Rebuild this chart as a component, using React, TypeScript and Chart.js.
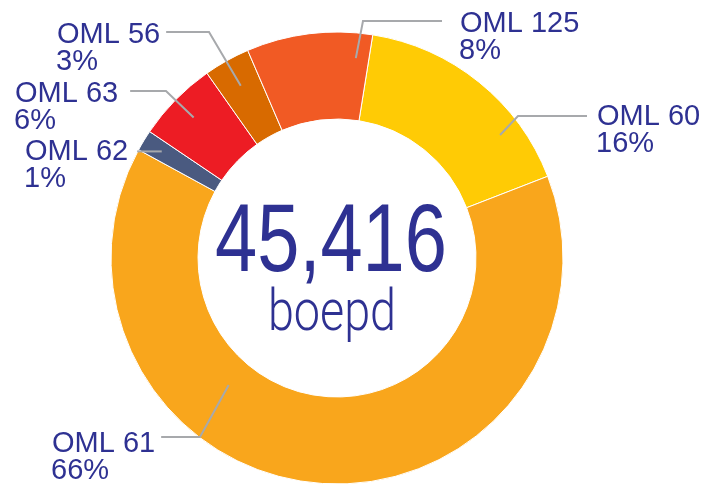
import { useEffect, useRef } from "react";
import { Chart, registerables } from "chart.js";

Chart.register(...registerables);

// ---- data ----
const categories = ["OML 60", "OML 61", "OML 62", "OML 63", "OML 56", "OML 125"];
const shares = [16.6, 63.9, 1.5, 5.8, 3.3, 9.0];
const shareLabels = ["16%", "66%", "1%", "6%", "3%", "8%"];
const totalLabel = "45,416";
const unitLabel = "boepd";

// ---- styles ----
const COLORS = ["#FFCB05", "#F9A61C", "#4A5A80", "#ED1C24", "#D86A00", "#F15A24"];
const TEXT = "#2E3192";
const LEADER = "#A7A9AC";
const LABEL_FONT = '29px "Liberation Sans", Arial, sans-serif';

type Lay = {
  side: "left" | "right";
  textX: number;
  base: number;
  lineY: number;
  lineStart?: number;
  elbowX: number | null;
  f: number;
  rf: number;
  gap: number;
};

const LAYOUT: Lay[] = [
  { side: "right", textX: 597, base: 125, lineY: 116, lineStart: 587, elbowX: 518, f: 0.735, rf: 0.75, gap: 0 },
  { side: "left", textX: 52, base: 452, lineY: 437, elbowX: 200, f: 0.66, rf: 0.32, gap: 6 },
  { side: "left", textX: 25, base: 160, lineY: 149, elbowX: null, f: 0.5, rf: 0.76, gap: 9 },
  { side: "left", textX: 15, base: 102, lineY: 91, elbowX: 166, f: 0.5, rf: 0.71, gap: 12 },
  { side: "left", textX: 57, base: 43, lineY: 32, elbowX: 209, f: 0.5, rf: 0.67, gap: 6 },
  { side: "right", textX: 460, base: 32, lineY: 21, lineStart: 442, elbowX: 363, f: 0.885, rf: 0.71, gap: 0 },
];

const labelPlugin = {
  id: "donutLabels",
  afterDraw(chart: any) {
    const ctx = chart.ctx as CanvasRenderingContext2D;
    const meta = chart.getDatasetMeta(0);
    ctx.save();
    meta.data.forEach((arc: any, i: number) => {
      const p = arc.getProps(["x", "y", "startAngle", "endAngle", "innerRadius", "outerRadius"], true);
      const L = LAYOUT[i];
      const a = p.startAngle + (p.endAngle - p.startAngle) * L.f;
      const r = p.innerRadius + (p.outerRadius - p.innerRadius) * L.rf;
      const ax = p.x + Math.cos(a) * r;
      const ay = p.y + Math.sin(a) * r;

      ctx.font = LABEL_FONT;
      ctx.fillStyle = TEXT;
      ctx.textAlign = "left";
      ctx.textBaseline = "alphabetic";
      ctx.fillText(categories[i], L.textX, L.base);
      ctx.fillText(shareLabels[i], L.textX - 1, L.base + 27);
      const w = ctx.measureText(categories[i]).width;

      ctx.strokeStyle = LEADER;
      ctx.lineWidth = 2;
      ctx.lineJoin = "miter";
      ctx.beginPath();
      if (L.side === "left") {
        const x0 = L.textX + w + L.gap;
        if (L.elbowX === null) {
          ctx.moveTo(x0, ay);
          ctx.lineTo(ax, ay);
        } else {
          ctx.moveTo(x0, L.lineY);
          ctx.lineTo(L.elbowX, L.lineY);
          ctx.lineTo(ax, ay);
        }
      } else {
        ctx.moveTo(L.lineStart as number, L.lineY);
        ctx.lineTo(L.elbowX as number, L.lineY);
        ctx.lineTo(ax, ay);
      }
      ctx.stroke();
    });

    // center text
    const first = meta.data[0];
    if (first) {
      const cx = first.x;
      const cy = first.y;
      ctx.fillStyle = TEXT;
      ctx.textAlign = "center";
      ctx.textBaseline = "alphabetic";

      ctx.save();
      ctx.translate(cx - 6, cy + 13);
      ctx.scale(0.79, 1);
      ctx.font = '96px "Liberation Sans", Arial, sans-serif';
      ctx.fillText(totalLabel, 0, 0);
      ctx.restore();

      ctx.save();
      ctx.translate(cx - 5, cy + 72);
      ctx.scale(0.82, 1);
      ctx.font = '300 57px Roboto, "Liberation Sans", sans-serif';
      ctx.fillText(unitLabel, 0, 0);
      ctx.restore();
    }
    ctx.restore();
  },
};

export default function App() {
  const ref = useRef<HTMLCanvasElement | null>(null);
  useEffect(() => {
    if (!ref.current) return;
    const chart = new Chart(ref.current, {
      type: "doughnut",
      data: {
        labels: categories,
        datasets: [
          {
            data: shares,
            backgroundColor: COLORS,
            borderColor: "#FFFFFF",
            borderWidth: 1,
          },
        ],
      },
      options: {
        responsive: false,
        animation: false,
        rotation: 9.1,
        radius: 226,
        cutout: "61.5%",
        layout: { padding: { left: 0, right: 30, top: 27, bottom: 0 } },
        plugins: {
          legend: { display: false },
          tooltip: { enabled: false },
        },
      },
      plugins: [labelPlugin],
    });
    return () => chart.destroy();
  }, []);
  return (
    <div style={{ position: "fixed", left: 0, top: 0, width: 704, height: 489, background: "#fff" }}>
      <canvas ref={ref} width={704} height={489} style={{ display: "block" }} />
    </div>
  );
}
